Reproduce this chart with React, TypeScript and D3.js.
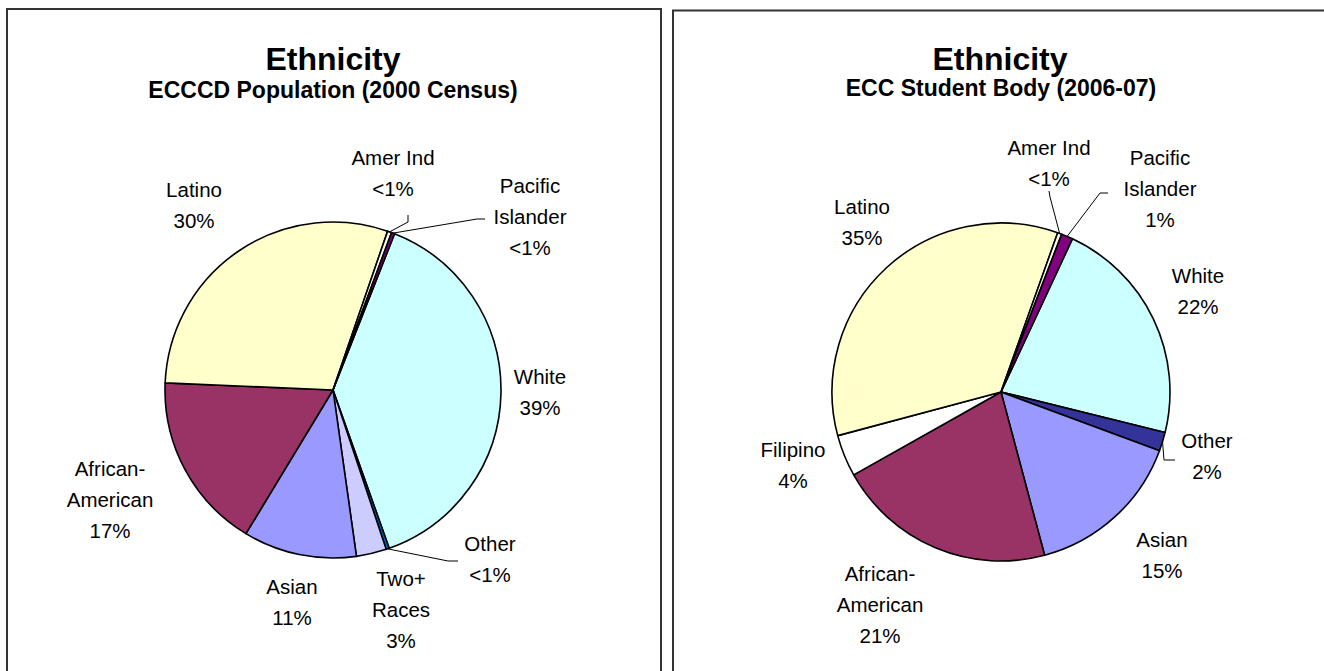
import React from "react";
import * as d3 from "d3";

// ---- Data ----
const leftCategories = ["White", "Other", "Two+ Races", "Asian", "African-American", "Latino", "Amer Ind", "Pacific Islander"];
const leftValues = [38.6, 0.3, 2.9, 10.9, 17.0, 29.6, 0.4, 0.3];
const leftLabels = [["White", "39%"], ["Other", "<1%"], ["Two+", "Races", "3%"], ["Asian", "11%"], ["African-", "American", "17%"], ["Latino", "30%"], ["Amer Ind", "<1%"], ["Pacific", "Islander", "<1%"]];

const rightCategories = ["White", "Other", "Asian", "African-American", "Filipino", "Latino", "Amer Ind", "Pacific Islander"];
const rightValues = [21.9, 1.8, 15.2, 21.0, 4.0, 34.6, 0.4, 1.1];
const rightLabels = [["White", "22%"], ["Other", "2%"], ["Asian", "15%"], ["African-", "American", "21%"], ["Filipino", "4%"], ["Latino", "35%"], ["Amer Ind", "<1%"], ["Pacific", "Islander", "1%"]];

const colorMap: Record<string, string> = {
  "White": "#CCFFFF",
  "Latino": "#FFFFCC",
  "African-American": "#993366",
  "Asian": "#9999FF",
  "Two+ Races": "#CCCCFF",
  "Amer Ind": "#FFFFE6",
  "Pacific Islander": "#800080",
  "Filipino": "#FFFFFF",
};
const otherColorLeft = "#0066CC";
const otherColorRight = "#333399";

// ---- Layout (label positions relative to pie centre) ----
const leftLayout: Record<string, { dx: number; dy: number; leader?: [number, number][] }> = {
  "White": { dx: 207, dy: -13 },
  "Other": { dx: 157, dy: 154, leader: [[115, 171], [125, 171]] },
  "Two+ Races": { dx: 68, dy: 189 },
  "Asian": { dx: -41, dy: 197 },
  "African-American": { dx: -223, dy: 79 },
  "Latino": { dx: -139, dy: -200 },
  "Amer Ind": { dx: 60, dy: -232, leader: [[75, -168], [75, -175]] },
  "Pacific Islander": { dx: 197, dy: -204, leader: [[144, -171], [152, -171]] },
};
const rightLayout: Record<string, { dx: number; dy: number; leader?: [number, number][] }> = {
  "White": { dx: 197, dy: -116 },
  "Other": { dx: 206, dy: 49, leader: [[163, 68], [174, 68]] },
  "Asian": { dx: 161, dy: 148 },
  "African-American": { dx: -121, dy: 182 },
  "Filipino": { dx: -208, dy: 58 },
  "Latino": { dx: -139, dy: -185 },
  "Amer Ind": { dx: 48, dy: -244, leader: [[49, -195], [48, -201]] },
  "Pacific Islander": { dx: 159, dy: -234, leader: [[99, -199], [107, -199]] },
};

const FONT = "'Liberation Sans', Arial, sans-serif";

type PieProps = {
  cx: number; cy: number; r: number;
  categories: string[]; values: number[]; labels: string[][];
  startDeg: number; otherColor: string;
  layout: Record<string, { dx: number; dy: number; leader?: [number, number][] }>;
};

function Pie({ cx, cy, r, categories, values, labels, startDeg, otherColor, layout }: PieProps) {
  const start = (startDeg * Math.PI) / 180;
  const pie = d3.pie<number>().sort(null).startAngle(start).endAngle(start + 2 * Math.PI);
  const arcs = pie(values);
  const arc = d3.arc<d3.PieArcDatum<number>>().innerRadius(0).outerRadius(r);
  const edge = d3.arc<d3.PieArcDatum<number>>().innerRadius(r).outerRadius(r);
  const lineH = 31;
  return (
    <g transform={`translate(${cx},${cy})`}>
      {arcs.map((a, i) => (
        <path key={i} d={arc(a) || ""} fill={categories[i] === "Other" ? otherColor : colorMap[categories[i]]} stroke="#000" strokeWidth={1.6} strokeLinejoin="round" />
      ))}
      {arcs.map((a, i) => {
        const L = layout[categories[i]];
        if (!L.leader) return null;
        const p = edge.centroid(a);
        const pts = [p, ...L.leader];
        return <path key={"l" + i} d={d3.line()(pts as [number, number][]) || ""} fill="none" stroke="#000" strokeWidth={1} />;
      })}
      {arcs.map((a, i) => {
        const L = layout[categories[i]];
        return (
          <text key={"t" + i} x={L.dx} y={L.dy} textAnchor="middle" fontFamily={FONT} fontSize={20.5} fill="#000">
            {labels[i].map((s, j) => (
              <tspan key={j} x={L.dx} y={L.dy + j * lineH} dy="0.35em">{s}</tspan>
            ))}
          </text>
        );
      })}
    </g>
  );
}

export default function App() {
  return (
    <svg width={1324} height={671} style={{ position: "absolute", left: 0, top: 0, background: "#fff" }}>
      <rect x={0} y={0} width={1324} height={671} fill="#fff" />
      <rect x={7} y={9} width={654} height={700} fill="#fff" stroke="#333" strokeWidth={2} />
      <rect x={673} y={10.5} width={700} height={700} fill="#fff" stroke="#333" strokeWidth={2} />

      <text x={333} y={70} textAnchor="middle" fontFamily={FONT} fontWeight="bold" fontSize={32}>Ethnicity</text>
      <text x={333} y={98} textAnchor="middle" fontFamily={FONT} fontWeight="bold" fontSize={23}>ECCCD Population (2000 Census)</text>
      <text x={1000} y={70} textAnchor="middle" fontFamily={FONT} fontWeight="bold" fontSize={32}>Ethnicity</text>
      <text x={1001} y={96} textAnchor="middle" fontFamily={FONT} fontWeight="bold" fontSize={23}>ECC Student Body (2006-07)</text>

      <Pie cx={333} cy={390} r={168} categories={leftCategories} values={leftValues} labels={leftLabels} startDeg={21.5} otherColor={otherColorLeft} layout={leftLayout} />
      <Pie cx={1001} cy={392} r={169} categories={rightCategories} values={rightValues} labels={rightLabels} startDeg={25} otherColor={otherColorRight} layout={rightLayout} />
    </svg>
  );
}
